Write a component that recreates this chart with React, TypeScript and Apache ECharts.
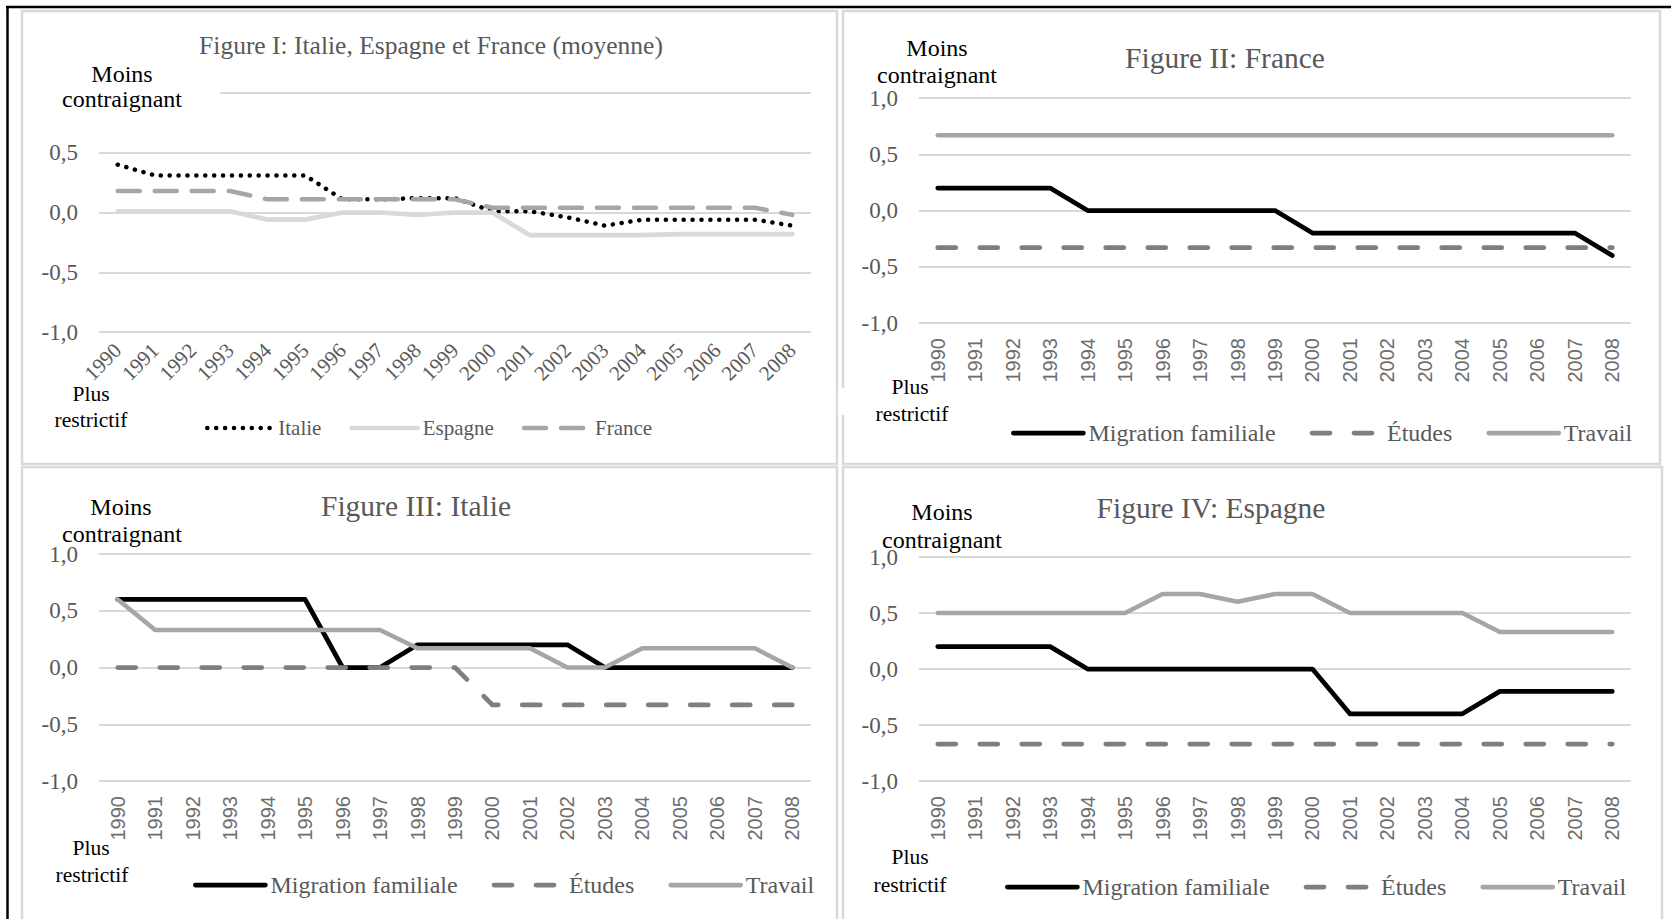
import React, { useEffect, useRef } from 'react';
import * as echarts from 'echarts';

const years = ['1990', '1991', '1992', '1993', '1994', '1995', '1996', '1997', '1998', '1999', '2000', '2001', '2002', '2003', '2004', '2005', '2006', '2007', '2008'];

// Figure I : moyennes
const italieMoy = [0.4, 0.31, 0.31, 0.31, 0.31, 0.31, 0.11, 0.11, 0.12, 0.12, 0.01, 0.01, -0.04, -0.11, -0.06, -0.06, -0.06, -0.06, -0.11];
const espagneMoy = [0.01, 0.01, 0.01, 0.01, -0.06, -0.06, 0, 0, -0.02, 0, 0, -0.19, -0.19, -0.19, -0.19, -0.18, -0.18, -0.18, -0.18];
const franceMoy = [0.18, 0.18, 0.18, 0.18, 0.11, 0.11, 0.11, 0.11, 0.11, 0.11, 0.04, 0.04, 0.04, 0.04, 0.04, 0.04, 0.04, 0.04, -0.02];

// Figure II : France
const franceFam = [0.2, 0.2, 0.2, 0.2, 0, 0, 0, 0, 0, 0, -0.2, -0.2, -0.2, -0.2, -0.2, -0.2, -0.2, -0.2, -0.4];
const franceEtu = [-0.33, -0.33, -0.33, -0.33, -0.33, -0.33, -0.33, -0.33, -0.33, -0.33, -0.33, -0.33, -0.33, -0.33, -0.33, -0.33, -0.33, -0.33, -0.33];
const franceTra = [0.67, 0.67, 0.67, 0.67, 0.67, 0.67, 0.67, 0.67, 0.67, 0.67, 0.67, 0.67, 0.67, 0.67, 0.67, 0.67, 0.67, 0.67, 0.67];

// Figure III : Italie
const italieFam = [0.6, 0.6, 0.6, 0.6, 0.6, 0.6, 0, 0, 0.2, 0.2, 0.2, 0.2, 0.2, 0, 0, 0, 0, 0, 0];
const italieEtu = [0, 0, 0, 0, 0, 0, 0, 0, 0, 0, -0.33, -0.33, -0.33, -0.33, -0.33, -0.33, -0.33, -0.33, -0.33];
const italieTra = [0.6, 0.33, 0.33, 0.33, 0.33, 0.33, 0.33, 0.33, 0.17, 0.17, 0.17, 0.17, 0, 0, 0.17, 0.17, 0.17, 0.17, 0];

// Figure IV : Espagne
const espagneFam = [0.2, 0.2, 0.2, 0.2, 0, 0, 0, 0, 0, 0, 0, -0.4, -0.4, -0.4, -0.4, -0.2, -0.2, -0.2, -0.2];
const espagneEtu = [-0.67, -0.67, -0.67, -0.67, -0.67, -0.67, -0.67, -0.67, -0.67, -0.67, -0.67, -0.67, -0.67, -0.67, -0.67, -0.67, -0.67, -0.67, -0.67];
const espagneTra = [0.5, 0.5, 0.5, 0.5, 0.5, 0.5, 0.67, 0.67, 0.6, 0.67, 0.67, 0.5, 0.5, 0.5, 0.5, 0.33, 0.33, 0.33, 0.33];

const titles = ['Figure I: Italie, Espagne et France (moyenne)', 'Figure II: France', 'Figure III: Italie', 'Figure IV: Espagne'];
const namesMoy = ['Italie', 'Espagne', 'France'];
const namesCat = ['Migration familiale', 'Études', 'Travail'];
const topNote = ['Moins', 'contraignant'];
const bottomNote = ['Plus', 'restrictif'];

const SERIF = '"Liberation Serif", "Times New Roman", serif';
const SANS = '"Liberation Sans", Arial, sans-serif';
const GREY_TEXT = '#595959';
const GRID_COLOR = '#d9d9d9';

export default function App() {
  const ref = useRef<HTMLDivElement>(null);

  useEffect(() => {
    if (!ref.current) return;
    const chart = echarts.init(ref.current, undefined, { renderer: 'svg' });

    const grids = [
      { left: 99, top: 93, width: 712, height: 239 },
      { left: 919, top: 98, width: 712, height: 225 },
      { left: 99, top: 554, width: 712, height: 227 },
      { left: 919, top: 557, width: 712, height: 224 },
    ];

    const yAxes = grids.map((_, i) => ({
      type: 'value',
      gridIndex: i,
      min: -1,
      max: 1,
      interval: 0.5,
      axisLine: { show: false },
      axisTick: { show: false },
      axisLabel: {
        // in Figure I the top label is hidden under the "Moins contraignant" box
        formatter: (v: number) => (i === 0 && v === 1 ? '' : v.toFixed(1).replace('.', ',')),
        fontFamily: SERIF,
        fontSize: 23,
        color: GREY_TEXT,
        margin: 21,
      },
      splitLine: { lineStyle: { color: GRID_COLOR, width: 2 } },
    }));

    const xAxes = grids.map((_, i) => ({
      type: 'category',
      gridIndex: i,
      data: years,
      boundaryGap: true,
      axisLine: { show: false },
      axisTick: { show: false },
      axisLabel: i === 0
        ? { interval: 0, rotate: 45, fontFamily: SERIF, fontSize: 21, color: GREY_TEXT, margin: 15 }
        : { interval: 0, rotate: 90, fontFamily: SANS, fontSize: 20, color: '#6e6e6e', margin: 15 },
    }));

    const famStyle = { color: '#000000', width: 4.75, cap: 'round', join: 'round' };
    const etuStyle = { color: '#7f7f7f', width: 4.75, type: [18, 24], cap: 'round', join: 'round' };
    const traStyle = { color: '#a6a6a6', width: 4.5, cap: 'round', join: 'round' };

    const mk = (name: string, data: number[], idx: number, lineStyle: any) => ({
      type: 'line',
      name,
      data,
      xAxisIndex: idx,
      yAxisIndex: idx,
      symbol: 'none',
      showSymbol: false,
      lineStyle,
      itemStyle: { color: lineStyle.color },
      silent: true,
    });

    const series = [
      mk('Italie', italieMoy, 0, { color: '#000000', width: 4.5, type: [0.1, 8.8], cap: 'round', join: 'round' }),
      mk('Espagne', espagneMoy, 0, { color: '#d9d9d9', width: 4.75, cap: 'round', join: 'round' }),
      mk('France', franceMoy, 0, { color: '#a6a6a6', width: 4.5, type: [22, 15], cap: 'round', join: 'round' }),
      mk('Migration familiale', franceFam, 1, famStyle),
      mk('Études', franceEtu, 1, etuStyle),
      mk('Travail', franceTra, 1, traStyle),
      mk('Migration familiale', italieFam, 2, famStyle),
      mk('Études', italieEtu, 2, etuStyle),
      mk('Travail', italieTra, 2, traStyle),
      mk('Migration familiale', espagneFam, 3, famStyle),
      mk('Études', espagneEtu, 3, etuStyle),
      mk('Travail', espagneTra, 3, traStyle),
    ];

    const legendBase = {
      orient: 'horizontal',
      padding: 0,
      selectedMode: false,
      itemHeight: 12,
      itemStyle: { color: 'rgba(0,0,0,0)', borderWidth: 0, opacity: 0 },
      lineStyle: { width: 4.75 },
    };
    const legends = [
      { ...legendBase, data: namesMoy, left: 205, top: 415, itemWidth: 66, itemGap: 28, lineStyle: { width: 4.5 },
        textStyle: { fontFamily: SERIF, fontSize: 21, color: GREY_TEXT, lineHeight: 26 } },
      { ...legendBase, data: namesCat, left: 1011, top: 420, itemWidth: 70, itemGap: 34,
        textStyle: { fontFamily: SERIF, fontSize: 24, color: GREY_TEXT, lineHeight: 26 } },
      { ...legendBase, data: namesCat, left: 193, top: 872, itemWidth: 70, itemGap: 34,
        textStyle: { fontFamily: SERIF, fontSize: 24, color: GREY_TEXT, lineHeight: 26 } },
      { ...legendBase, data: namesCat, left: 1005, top: 874, itemWidth: 70, itemGap: 34,
        textStyle: { fontFamily: SERIF, fontSize: 24, color: GREY_TEXT, lineHeight: 26 } },
    ];

    const txt = (text: string, x: number, y: number, size: number, fill: string) => ({
      type: 'text',
      x,
      y,
      z: 100,
      silent: true,
      style: {
        text,
        fill,
        fontSize: size,
        fontFamily: SERIF,
        textAlign: 'center',
        textVerticalAlign: 'middle',
        align: 'center',
        verticalAlign: 'middle',
      },
    });

    const border = (x: number, y: number, w: number, h: number) => ({
      type: 'rect',
      z: 1,
      silent: true,
      shape: { x, y, width: w, height: h },
      style: { fill: 'none', stroke: '#d9d9d9', lineWidth: 2.5 },
    });

    const elements: any[] = [
      border(22, 11, 815, 453),
      border(843, 11, 817, 453),
      border(22, 467, 815, 470),
      border(843, 467, 819, 470),
      { type: 'line', z: 5, silent: true, shape: { x1: 6, y1: 7, x2: 1671, y2: 7 }, style: { stroke: '#000', lineWidth: 2.5 } },
      { type: 'line', z: 5, silent: true, shape: { x1: 7.5, y1: 6, x2: 7.5, y2: 919 }, style: { stroke: '#000', lineWidth: 2.5 } },
      // text box of panel I hiding the top of the grid
      { type: 'rect', z: 50, silent: true, shape: { x: 36, y: 58, width: 184, height: 48 }, style: { fill: '#ffffff' } },
      // text box of panel II cutting the panel border
      { type: 'rect', z: 50, silent: true, shape: { x: 838, y: 388, width: 10, height: 27 }, style: { fill: '#ffffff' } },
      txt(titles[0], 431, 45, 25.5, GREY_TEXT),
      txt(titles[1], 1225, 58, 29.5, GREY_TEXT),
      txt(titles[2], 416, 506, 29.5, GREY_TEXT),
      txt(titles[3], 1211, 508, 29.5, GREY_TEXT),
      txt(topNote[0], 122, 74, 24, '#000'),
      txt(topNote[1], 122, 99, 24, '#000'),
      txt(topNote[0], 937, 48, 24, '#000'),
      txt(topNote[1], 937, 75, 24, '#000'),
      txt(topNote[0], 121, 507, 24, '#000'),
      txt(topNote[1], 122, 534, 24, '#000'),
      txt(topNote[0], 942, 512, 24, '#000'),
      txt(topNote[1], 942, 540, 24, '#000'),
      txt(bottomNote[0], 91, 394, 21.5, '#000'),
      txt(bottomNote[1], 91, 420, 21.5, '#000'),
      txt(bottomNote[0], 910, 387, 21.5, '#000'),
      txt(bottomNote[1], 912, 414, 21.5, '#000'),
      txt(bottomNote[0], 91, 848, 21.5, '#000'),
      txt(bottomNote[1], 92, 875, 21.5, '#000'),
      txt(bottomNote[0], 910, 857, 21.5, '#000'),
      txt(bottomNote[1], 910, 885, 21.5, '#000'),
    ];

    chart.setOption({
      animation: false,
      backgroundColor: '#ffffff',
      grid: grids,
      xAxis: xAxes,
      yAxis: yAxes,
      series,
      legend: legends,
      graphic: { elements },
    } as any);

    return () => chart.dispose();
  }, []);

  return (
    <div
      ref={ref}
      style={{ position: 'fixed', left: 0, top: 0, width: 1671, height: 919, background: '#fff' }}
    />
  );
}
